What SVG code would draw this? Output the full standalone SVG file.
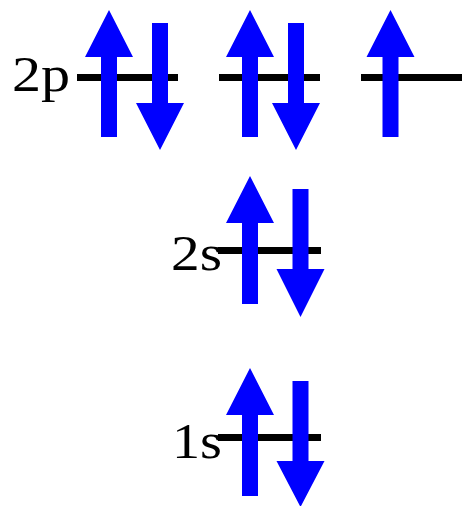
<svg xmlns="http://www.w3.org/2000/svg" width="467" height="506" viewBox="0 0 467 506">
<style>
.lvl{stroke:#000;stroke-width:7;fill:none}
.arr{fill:#0000ff;stroke:none}
.lbl{font-family:"Liberation Serif","DejaVu Serif",serif;font-size:51px;fill:#000}
</style>
<rect width="467" height="506" fill="#fff"/>
<g id="connectors"></g>
<g id="level-2p">
<line class="lvl" x1="77" y1="77.5" x2="178" y2="77.5"/>
<line class="lvl" x1="219" y1="77.5" x2="320" y2="77.5"/>
<line class="lvl" x1="361" y1="77.5" x2="462" y2="77.5"/>
<text class="lbl" x="12" y="91" textLength="58" lengthAdjust="spacingAndGlyphs">2p</text>
<polygon class="arr" points="101,137 101,57 85,57 109,10 133,57 117,57 117,137"/>
<polygon class="arr" points="152,23 152,103 136,103 160,150 184,103 168,103 168,23"/>
<polygon class="arr" points="242,137 242,57 226,57 250,10 274,57 258,57 258,137"/>
<polygon class="arr" points="288,23 288,103 272,103 296,150 320,103 304,103 304,23"/>
<polygon class="arr" points="382.5,137 382.5,57 366.5,57 390.5,10 414.5,57 398.5,57 398.5,137"/>
</g>
<g id="level-2s">
<line class="lvl" x1="218" y1="250.5" x2="321" y2="250.5"/>
<text class="lbl" x="171" y="270" textLength="51" lengthAdjust="spacingAndGlyphs">2s</text>
<polygon class="arr" points="242,304 242,223 226,223 250,176 274,223 258,223 258,304"/>
<polygon class="arr" points="292.5,189 292.5,269 276.5,269 300.5,317 324.5,269 308.5,269 308.5,189"/>
</g>
<g id="level-1s">
<line class="lvl" x1="218" y1="437.5" x2="321" y2="437.5"/>
<text class="lbl" x="172" y="458" textLength="50" lengthAdjust="spacingAndGlyphs">1s</text>
<polygon class="arr" points="242,496 242,415 226,415 250,368 274,415 258,415 258,496"/>
<polygon class="arr" points="292.5,381 292.5,461 276.5,461 300.5,507 324.5,461 308.5,461 308.5,381"/>
</g>
</svg>
